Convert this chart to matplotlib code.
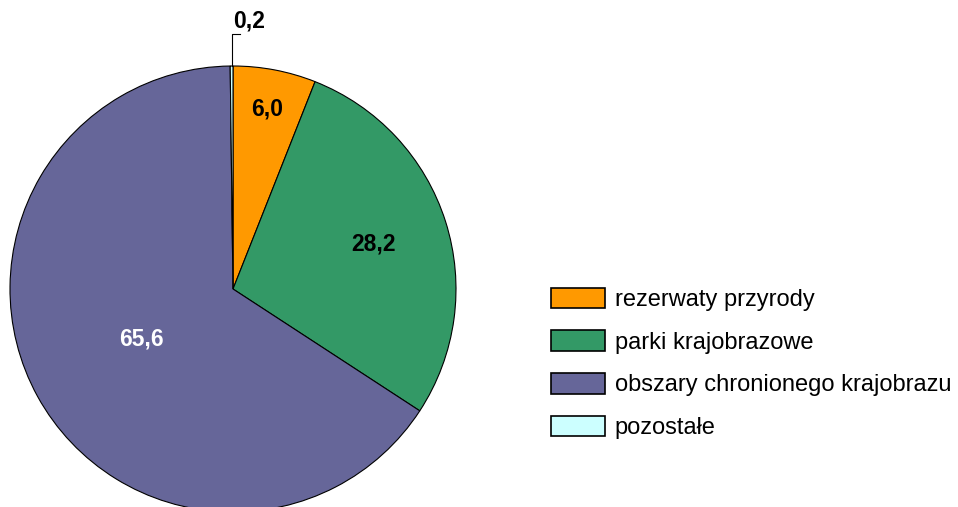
import numpy as np
import matplotlib.pyplot as plt

# dane
kategorie = ["rezerwaty przyrody", "parki krajobrazowe",
             "obszary chronionego krajobrazu", "pozostałe"]
wartosci = [6.0, 28.2, 65.6, 0.2]
etykiety = ["6,0", "28,2", "65,6", "0,2"]
kolory = ["#FF9900", "#339966", "#666699", "#CCFFFF"]

plt.rcParams['font.family'] = ['Liberation Sans', 'DejaVu Sans']

W, H = 958, 507
fig = plt.figure(figsize=(W / 100, H / 100), dpi=100)

# srodek kola i promien w pikselach
cx, cy, R = 233, 289, 223
m = 1.3
ax = fig.add_axes([(cx - m * R) / W, (H - cy - m * R) / H, 2 * m * R / W, 2 * m * R / H])

wedges, _ = ax.pie(wartosci, colors=kolory, startangle=90, counterclock=False,
                   wedgeprops=dict(edgecolor="black", linewidth=0.8))
ax.set_xlim(-m, m)
ax.set_ylim(-m, m)
ax.set_aspect("auto")
ax.axis("off")

fs = 16.5
# etykiety wartosci
odl = [0.82, 0.66, 0.47]
kol_tekstu = ["black", "black", "white"]
suma = np.cumsum([0] + wartosci)
for i in range(3):
    kat = np.deg2rad(90 - 360 * (suma[i] + wartosci[i] / 2) / 100)
    ax.text(odl[i] * np.cos(kat), odl[i] * np.sin(kat), etykiety[i],
            ha="center", va="center", fontsize=fs, fontweight="bold",
            color=kol_tekstu[i])

# 0,2 z linia odniesienia
kat = np.deg2rad(90 - 360 * (suma[3] + wartosci[3] / 2) / 100)
x0, y0 = np.cos(kat), np.sin(kat)
ax.plot([x0, x0, 0.032], [y0, 1.142, 1.142], color="black", lw=0.8, clip_on=False)
ax.text(0.0, 1.2, etykiety[3], ha="left", va="center", fontsize=fs,
        fontweight="bold", clip_on=False)

lfs = 17
px = lfs * 100 / 72
leg = fig.legend(wedges, kategorie, loc="upper left",
                 bbox_to_anchor=(546 / W, 1 - 283 / H), frameon=False,
                 fontsize=lfs, handlelength=54 / px, handleheight=23 / px,
                 handletextpad=10 / px, labelspacing=0.81, borderpad=0.2,
                 borderaxespad=0)
for p in leg.get_patches():
    p.set_edgecolor("black")
    p.set_linewidth(1.2)

fig.savefig("out.png", dpi=100)
